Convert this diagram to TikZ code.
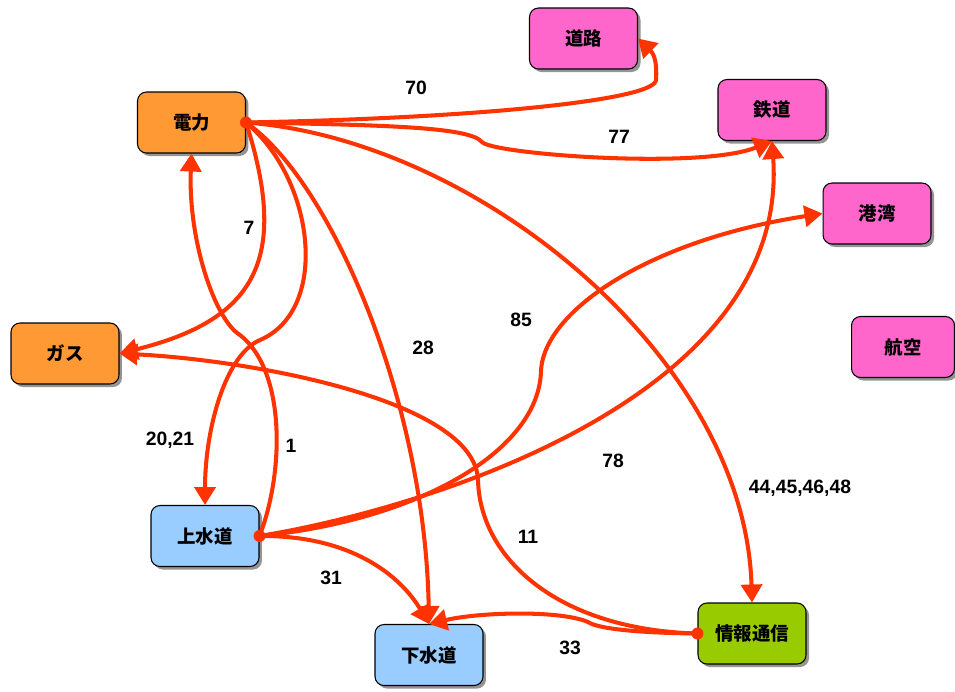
\documentclass[tikz,border=0pt]{standalone}
\usepackage{fontspec}
\setmainfont{Liberation Sans}
\newfontfamily\jpfont{Noto Sans CJK JP}
\usetikzlibrary{arrows.meta,shadows}

\definecolor{linkred}{HTML}{FF3300}
\definecolor{elecorange}{HTML}{FF9933}
\definecolor{transpink}{HTML}{FF66CC}
\definecolor{waterblue}{HTML}{99CCFF}
\definecolor{infogreen}{HTML}{99CC00}

\begin{document}
\begin{tikzpicture}[x=0.02cm, y=-0.02cm,
        box/.style={draw=black, line width=0.6pt, rounded corners=0.18cm,
            minimum width=2.16cm, minimum height=1.22cm,
            font=\jpfont\bfseries\fontsize{10.5}{12}\selectfont,
            drop shadow={shadow xshift=0.06cm, shadow yshift=-0.06cm, fill=black!60, opacity=0.7}},
        link/.style={draw=linkred, line width=2.3pt, -{Triangle[length=0.36cm,width=0.42cm]}},
        lbl/.style={font=\bfseries\fontsize{11}{13}\selectfont}]
        \useasboundingbox (0,0) rectangle (955,691);
        
        % Infrastructure boxes
        \node[box, fill=elecorange] (dl) at (191.5,122.5) {電力};
        \node[box, fill=elecorange] (gas) at (65,353.5) {ガス};
        \node[box, fill=transpink] (road) at (583.5,38.5) {道路};
        \node[box, fill=transpink] (rail) at (772,110) {鉄道};
        \node[box, fill=transpink] (port) at (877,213.5) {港湾};
        \node[box, fill=transpink, minimum width=2.06cm] (air) at (903,347) {航空};
        \node[box, fill=waterblue] (us) at (205,536) {上水道};
        \node[box, fill=waterblue] (sw) at (429,655) {下水道};
        \node[box, fill=infogreen] (info) at (752,633.5) {情報通信};
        
        % From electricity
        \draw[link] (dl.east) .. controls (480,118) and (655,100) .. (656,80) .. controls (657,65) and (655,55) .. (road.east);
        \draw[link] (dl.east) .. controls (400,125) and (470,128) .. (482,142) .. controls (492,154) and (700,170) .. (rail.south);
        \draw[link] (dl.east) .. controls (290,260) and (255,320) .. (gas.east);
        \draw[link] (dl.east) .. controls (315,180) and (330,310) .. (260,340) .. controls (225,355) and (205,430) .. (us.north);
        \draw[link] (dl.east) .. controls (330,180) and (425,400) .. (sw.north);
        \draw[link] (dl.east) .. controls (480,140) and (745,360) .. (info.north);
        
        % From water supply
        \draw[link] (us.east) .. controls (285,470) and (285,370) .. (240,335) .. controls (215,320) and (188,240) .. (dl.south);
        \draw[link] (us.east) .. controls (420,520) and (540,450) .. (541,370) .. controls (545,310) and (650,240) .. (port.west);
        \draw[link] (us.east) .. controls (420,510) and (790,400) .. (rail.south);
        \draw[link] (us.east) .. controls (350,535) and (400,575) .. (sw.north);
        
        % From telecom
        \draw[link] (info.west) .. controls (560,630) and (480,560) .. (478,480) .. controls (475,400) and (250,360) .. (gas.east);
        \draw[link] (info.west) .. controls (650,633) and (600,630) .. (588,622) .. controls (560,610) and (480,612) .. (sw.north);
        
        % Start dots
        \fill[linkred] (dl.east) circle (0.12cm);
        \fill[linkred] (us.east) circle (0.12cm);
        \fill[linkred] (info.west) circle (0.12cm);
        
        % Labels
        \node[lbl] (l70) at (416,88) {70};
        \node[lbl] (l77) at (619,137) {77};
        \node[lbl] (l7) at (249,228) {7};
        \node[lbl] (l85) at (521,320) {85};
        \node[lbl] (l28) at (423,348) {28};
        \node[lbl] (l2021) at (170,440) {20,21};
        \node[lbl] (l1) at (291,446) {1};
        \node[lbl] (l78) at (613,461) {78};
        \node[lbl] (l44) at (800,488) {44,45,46,48};
        \node[lbl] (l11) at (528,537) {11};
        \node[lbl] (l31) at (331,578) {31};
        \node[lbl] (l33) at (570,648) {33};
        
    \end{tikzpicture}
\end{document}
